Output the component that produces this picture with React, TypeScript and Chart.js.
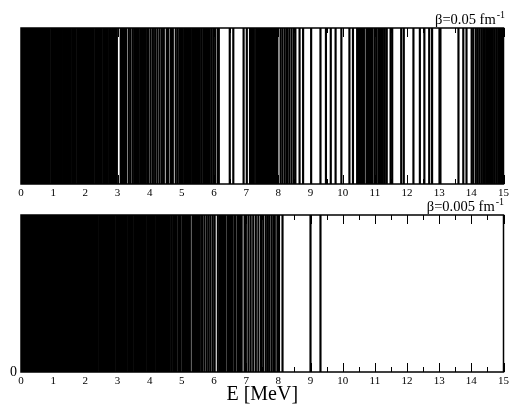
import { useEffect, useRef } from 'react';
import { Chart, registerables } from 'chart.js';

Chart.register(...registerables);

// Energy axis (MeV)
const energyTicks = [0, 1, 2, 3, 4, 5, 6, 7, 8, 9, 10, 11, 12, 13, 14, 15];

// Level energies (MeV) for β = 0.05 fm^-1
const levelsBetaA: number[] = [
  0.00, 0.03, 0.07, 0.10, 0.13, 0.18, 0.21, 0.25, 0.28, 0.32, 0.35, 0.38, 0.42, 0.45, 0.49, 0.52,
  0.55, 0.59, 0.62, 0.66, 0.69, 0.72, 0.76, 0.79, 0.83, 0.86, 0.89, 0.94, 0.97, 1.00, 1.04, 1.07,
  1.10, 1.14, 1.17, 1.21, 1.24, 1.27, 1.31, 1.34, 1.38, 1.41, 1.46, 1.49, 1.52, 1.55, 1.60, 1.63,
  1.67, 1.70, 1.75, 1.78, 1.82, 1.85, 1.88, 1.91, 1.96, 1.99, 2.03, 2.06, 2.09, 2.13, 2.16, 2.20,
  2.23, 2.26, 2.31, 2.34, 2.37, 2.41, 2.44, 2.47, 2.51, 2.56, 2.59, 2.62, 2.65, 2.70, 2.75, 2.78,
  2.81, 2.85, 2.88, 2.91, 2.95, 2.98, 3.10, 3.13, 3.17, 3.20, 3.24, 3.27, 3.35, 3.40, 3.47, 3.52,
  3.55, 3.59, 3.62, 3.66, 3.71, 3.74, 3.77, 3.82, 3.85, 3.88, 3.93, 3.96, 4.03, 4.10, 4.17, 4.24,
  4.31, 4.38, 4.44, 4.53, 4.57, 4.65, 4.69, 4.72, 4.81, 4.87, 4.93, 4.96, 5.00, 5.03, 5.08, 5.11,
  5.14, 5.18, 5.21, 5.24, 5.28, 5.33, 5.36, 5.40, 5.43, 5.46, 5.50, 5.53, 5.56, 5.62, 5.68, 5.71,
  5.74, 5.77, 5.81, 5.84, 5.87, 5.93, 5.99, 6.04, 6.12, 6.15, 6.49, 6.60, 6.92, 7.02, 7.12, 7.17,
  7.20, 7.24, 7.31, 7.35, 7.38, 7.42, 7.45, 7.48, 7.52, 7.55, 7.58, 7.62, 7.66, 7.71, 7.76, 7.80,
  7.84, 7.87, 7.90, 7.94, 7.97, 8.07, 8.13, 8.20, 8.27, 8.34, 8.41, 8.48, 8.53, 8.66, 8.77, 9.02,
  9.31, 9.48, 9.63, 9.78, 9.96, 10.21, 10.32, 10.45, 10.48, 10.52, 10.55, 10.59, 10.62, 10.66,
  10.74, 10.77, 10.80, 10.83, 10.86, 10.90, 10.93, 11.00, 11.06, 11.13, 11.19, 11.25, 11.31, 11.37,
  11.49, 11.54, 11.82, 11.90, 12.20, 12.40, 12.54, 12.69, 12.78, 13.01, 13.04, 13.60, 13.75, 13.85,
  14.01, 14.06, 14.14, 14.20, 14.26, 14.32, 14.37, 14.42, 14.47, 14.50, 14.54, 14.57, 14.61, 14.67,
  14.73, 14.79, 14.84, 14.89, 14.93, 14.97,
];

// Level energies (MeV) for β = 0.005 fm^-1
const levelsBetaB: number[] = [
  0.00, 0.03, 0.07, 0.10, 0.13, 0.17, 0.20, 0.23, 0.27, 0.30, 0.33, 0.37, 0.40, 0.43, 0.47, 0.50,
  0.53, 0.57, 0.60, 0.63, 0.67, 0.70, 0.73, 0.77, 0.80, 0.83, 0.87, 0.90, 0.93, 0.97, 1.00, 1.03,
  1.07, 1.10, 1.13, 1.17, 1.20, 1.23, 1.27, 1.30, 1.33, 1.37, 1.40, 1.43, 1.47, 1.50, 1.53, 1.57,
  1.60, 1.63, 1.66, 1.69, 1.74, 1.77, 1.80, 1.84, 1.87, 1.90, 1.94, 1.97, 2.00, 2.05, 2.08, 2.12,
  2.15, 2.18, 2.22, 2.25, 2.28, 2.32, 2.35, 2.38, 2.43, 2.48, 2.51, 2.54, 2.58, 2.61, 2.64, 2.68,
  2.71, 2.74, 2.78, 2.81, 2.84, 2.88, 2.91, 2.96, 2.99, 3.02, 3.06, 3.09, 3.12, 3.16, 3.19, 3.22,
  3.26, 3.29, 3.34, 3.37, 3.40, 3.44, 3.47, 3.52, 3.55, 3.58, 3.62, 3.65, 3.68, 3.72, 3.75, 3.78,
  3.82, 3.85, 3.88, 3.93, 3.96, 3.99, 4.03, 4.06, 4.09, 4.13, 4.16, 4.21, 4.24, 4.27, 4.32, 4.35,
  4.38, 4.42, 4.45, 4.48, 4.53, 4.56, 4.59, 4.62, 4.67, 4.73, 4.79, 4.84, 4.90, 4.93, 4.96, 5.02,
  5.05, 5.09, 5.12, 5.15, 5.19, 5.22, 5.25, 5.33, 5.36, 5.39, 5.43, 5.46, 5.49, 5.53, 5.56, 5.63,
  5.70, 5.77, 5.83, 5.89, 5.96, 6.02, 6.12, 6.18, 6.22, 6.26, 6.29, 6.33, 6.36, 6.43, 6.46, 6.50,
  6.53, 6.56, 6.63, 6.67, 6.74, 6.77, 6.81, 6.86, 6.95, 6.99, 7.07, 7.14, 7.22, 7.30, 7.38, 7.46,
  7.53, 7.61, 7.67, 7.72, 7.79, 7.85, 7.89, 7.97, 8.02, 8.13, 9.00, 9.31,
];

const betaLabels = ['β=0.05 fm', 'β=0.005 fm'];
const betaPower = '-1';
const energyTitle = 'E [MeV]';

const SERIF = '"Liberation Serif", "Times New Roman", serif';
const WIDTH = 512;
const HEIGHT = 411;

// Frame, inward tick marks and the β annotation of a panel
const panelDecor = {
  id: 'panelDecor',
  afterDatasetsDraw(chart: any, _args: any, opts: any) {
    const { ctx, chartArea: a } = chart;
    const x = chart.scales.x;
    ctx.save();
    ctx.strokeStyle = '#000';
    ctx.lineWidth = 1;
    ctx.beginPath();
    energyTicks.forEach((t, i) => {
      const marks: Array<[number, number]> = [[t, 9]];
      if (i < energyTicks.length - 1) marks.push([(t + energyTicks[i + 1]) / 2, 5]);
      marks.forEach(([v, len]) => {
        const px = Math.round(x.getPixelForValue(v)) + 0.5;
        ctx.moveTo(px, a.bottom);
        ctx.lineTo(px, a.bottom - len);
        ctx.moveTo(px, a.top);
        ctx.lineTo(px, a.top + len);
      });
    });
    ctx.stroke();
    ctx.lineWidth = 1.5;
    ctx.strokeRect(a.left, a.top, a.right - a.left, a.bottom - a.top);

    const main = opts.text as string;
    ctx.fillStyle = '#000';
    ctx.textAlign = 'left';
    ctx.textBaseline = 'alphabetic';
    ctx.font = `14.5px ${SERIF}`;
    const mainW = ctx.measureText(main).width;
    ctx.font = `10px ${SERIF}`;
    const supW = ctx.measureText(betaPower).width;
    const x0 = opts.right - supW - mainW - 1;
    ctx.font = `14.5px ${SERIF}`;
    ctx.fillText(main, x0, opts.baseline);
    ctx.font = `10px ${SERIF}`;
    ctx.fillText(betaPower, x0 + mainW + 1, opts.baseline - 6);
    ctx.restore();
  },
};

type PanelProps = {
  levels: number[];
  label: string;
  top: number;
  axisHeight: number;
  labelRight: number;
  labelBaseline: number;
  bottomPanel: boolean;
};

function LevelPanel({ levels, label, top, axisHeight, labelRight, labelBaseline, bottomPanel }: PanelProps) {
  const ref = useRef<HTMLCanvasElement | null>(null);

  useEffect(() => {
    if (!ref.current) return;
    const chart = new Chart(ref.current, {
      type: 'bar',
      data: {
        datasets: [
          {
            data: levels.map((e) => ({ x: e, y: 1 })),
            backgroundColor: '#000',
            borderWidth: 0,
            barThickness: 1.5,
          },
        ],
      },
      plugins: [panelDecor],
      options: {
        animation: false,
        responsive: false,
        maintainAspectRatio: false,
        events: [],
        layout: {
          padding: {
            left: 0,
            right: 5,
            top,
            bottom: bottomPanel ? 0 : HEIGHT - 205,
          },
        },
        plugins: {
          legend: { display: false },
          tooltip: { enabled: false },
          panelDecor: { text: label, right: labelRight, baseline: labelBaseline },
        } as any,
        scales: {
          x: {
            type: 'linear',
            min: energyTicks[0],
            max: energyTicks[energyTicks.length - 1],
            offset: false,
            grid: { display: false, drawTicks: false },
            border: { display: false },
            ticks: {
              stepSize: 1,
              autoSkip: false,
              maxRotation: 0,
              padding: 3,
              color: '#000',
              font: { family: SERIF, size: 11 },
            },
            title: {
              display: bottomPanel,
              text: energyTitle,
              color: '#000',
              font: { family: SERIF, size: 20 },
              padding: { top: 0, bottom: 4 },
            },
            afterFit: (s: any) => {
              s.height = axisHeight;
            },
          },
          y: {
            display: true,
            min: 0,
            max: 1,
            grid: { display: false, drawTicks: false },
            border: { display: false },
            ticks: {
              display: bottomPanel,
              stepSize: 1,
              padding: 4,
              color: '#000',
              font: { family: SERIF, size: 14 },
              callback: (v: any) => (Number(v) === 0 ? '0' : ''),
            },
            afterFit: (s: any) => {
              s.width = 21;
            },
          },
        },
      } as any,
    });
    return () => chart.destroy();
  }, [levels, label, top, axisHeight, labelRight, labelBaseline, bottomPanel]);

  return (
    <canvas
      ref={ref}
      width={WIDTH}
      height={HEIGHT}
      style={{ position: 'absolute', left: 0, top: 0, width: WIDTH, height: HEIGHT }}
    />
  );
}

export default function App() {
  return (
    <div style={{ position: 'absolute', left: 0, top: 0, width: WIDTH, height: HEIGHT, background: '#fff' }}>
      <LevelPanel
        levels={levelsBetaA}
        label={betaLabels[0]}
        top={28}
        axisHeight={21}
        labelRight={505}
        labelBaseline={24}
        bottomPanel={false}
      />
      <LevelPanel
        levels={levelsBetaB}
        label={betaLabels[1]}
        top={215}
        axisHeight={39}
        labelRight={504}
        labelBaseline={211}
        bottomPanel={true}
      />
    </div>
  );
}
